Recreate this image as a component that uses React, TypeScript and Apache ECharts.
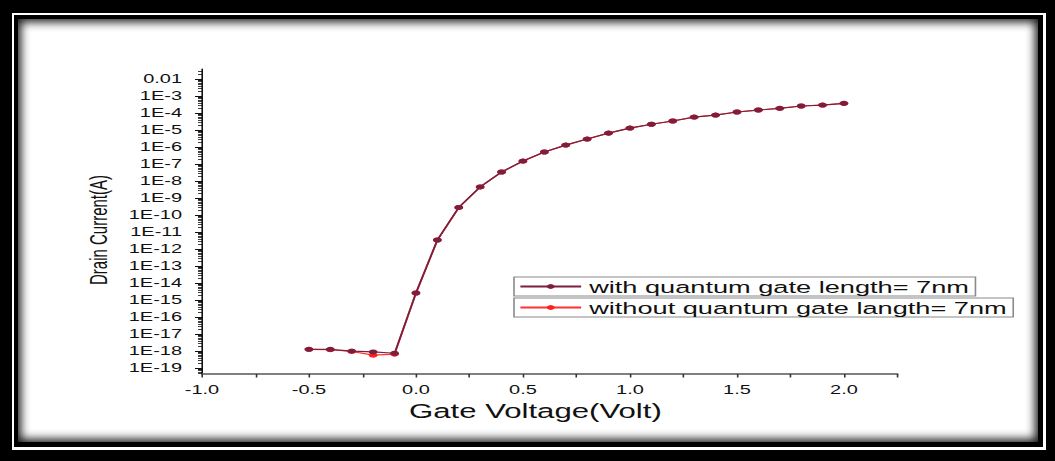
import React, { useEffect, useRef } from "react";
import * as echarts from "echarts";

// ---- data ----
const gateVoltage = [
  -0.5, -0.4, -0.3, -0.2, -0.1, 0.0, 0.1, 0.2, 0.3, 0.4, 0.5, 0.6, 0.7,
  0.8, 0.9, 1.0, 1.1, 1.2, 1.3, 1.4, 1.5, 1.6, 1.7, 1.8, 1.9, 2.0,
];
const withQuantum = [
  1.26e-18, 1.26e-18, 1.0e-18, 8.9e-19, 7.4e-19, 2.6e-15, 3.4e-12, 2.8e-10,
  4.5e-9, 3.4e-8, 1.5e-7, 5.1e-7, 1.3e-6, 2.95e-6, 6.6e-6, 1.3e-5, 2.2e-5,
  3.4e-5, 5.8e-5, 7.6e-5, 1.15e-4, 1.5e-4, 1.9e-4, 2.6e-4, 2.95e-4, 3.7e-4,
];
const withoutQuantum = [
  1.26e-18, 1.2e-18, 9.5e-19, 5.75e-19, 6.6e-19, 2.6e-15, 3.4e-12, 2.8e-10,
  4.5e-9, 3.4e-8, 1.5e-7, 5.1e-7, 1.3e-6, 2.95e-6, 6.6e-6, 1.3e-5, 2.2e-5,
  3.4e-5, 5.8e-5, 7.6e-5, 1.15e-4, 1.5e-4, 1.9e-4, 2.6e-4, 2.95e-4, 3.7e-4,
];
const seriesNames = [
  "with quantum gate length= 7nm",
  "without quantum gate langth= 7nm",
];
const yDecades = [-19, -18, -17, -16, -15, -14, -13, -12, -11, -10, -9, -8, -7, -6, -5, -4, -3, -2];
const xLabelValues = [-1.0, -0.5, 0.0, 0.5, 1.0, 1.5, 2.0];
const xTickValues = [-1.0, -0.75, -0.5, -0.25, 0.0, 0.25, 0.5, 0.75, 1.0, 1.25, 1.5, 1.75, 2.0, 2.25];
const xTitle = "Gate Voltage(Volt)";
const yTitle = "Drain Current(A)";

const FONT = "'Liberation Sans', Arial, Helvetica, sans-serif";
const CW = 660; // unscaled chart width
const S = 1055 / CW; // horizontal stretch
const Y_MIN = -19.35;
const Y_MAX = -1.41;

export default function App() {
  const ref = useRef<HTMLDivElement>(null);

  useEffect(() => {
    if (!ref.current) return;
    const chart = echarts.init(ref.current, null, { renderer: "svg" });

    const yMinor: number[] = [];
    for (let n = -20; n <= -2; n++) {
      for (let k = 2; k <= 9; k++) {
        const v = n + Math.log10(k);
        if (v >= Y_MIN && v <= Y_MAX) yMinor.push(v);
      }
    }

    const toPairs = (arr: number[]) =>
      gateVoltage.map((x, i) => [x, Math.log10(arr[i])]);

    const legendBase = {
      left: 514 / S,
      orient: "horizontal",
      itemWidth: 38,
      itemHeight: 6,
      itemGap: 0,
      padding: [1, 4, 1, 3],
      borderColor: "#8a8a8a",
      borderWidth: 1,
      selectedMode: false,
      textStyle: { fontSize: 17, color: "#111", fontFamily: FONT },
    };

    chart.setOption({
      animation: false,
      backgroundColor: "transparent",
      textStyle: { fontFamily: FONT },
      grid: {
        left: 202 / S,
        right: CW - 897.5 / S,
        top: 69,
        bottom: 87,
        containLabel: false,
        outerBoundsMode: "none",
      },
      legend: [
        { ...legendBase, top: 277, data: [seriesNames[0]] },
        { ...legendBase, top: 298, data: [seriesNames[1]] },
      ],
      xAxis: {
        type: "value",
        min: -1.0,
        max: 2.25,
        interval: 0.5,
        name: xTitle,
        nameLocation: "middle",
        nameGap: 27,
        nameMoveOverlap: false,
        nameTextStyle: {
          fontSize: 19.5,
          color: "#111",
          fontFamily: FONT,
          padding: [0, 18, 0, 0],
        },
        axisLine: { show: true, onZero: false, lineStyle: { color: "#555", width: 1.5 } },
        axisTick: {
          show: true,
          inside: false,
          length: 3.5,
          customValues: xTickValues,
          lineStyle: { color: "#333", width: 1 },
        },
        axisLabel: {
          show: true,
          customValues: xLabelValues,
          margin: 9,
          fontSize: 12.5,
          color: "#111",
          fontFamily: FONT,
          formatter: (v: number) => v.toFixed(1),
        },
        splitLine: { show: false },
        minorTick: { show: false },
      },
      yAxis: [
        {
          type: "value",
          min: Y_MIN,
          max: Y_MAX,
          position: "left",
          name: yTitle,
          nameLocation: "middle",
          nameRotate: 90,
          nameGap: 57.5,
          nameMoveOverlap: false,
          nameTextStyle: {
            fontSize: 15,
            color: "#111",
            fontFamily: FONT,
            padding: [0, 17, 0, 0],
          },
          axisLine: { show: true, onZero: false, lineStyle: { color: "#111", width: 1 } },
          axisTick: {
            show: true,
            inside: false,
            length: 4.4,
            customValues: yDecades,
            lineStyle: { color: "#111", width: 1 },
          },
          axisLabel: {
            show: true,
            customValues: yDecades,
            margin: 12.5,
            fontSize: 12.5,
            color: "#111",
            fontFamily: FONT,
            formatter: (v: number) => (Math.round(v) === -2 ? "0.01" : "1E" + Math.round(v)),
          },
          splitLine: { show: false },
        },
        {
          type: "value",
          min: Y_MIN,
          max: Y_MAX,
          position: "left",
          offset: 0,
          axisLine: { show: false, onZero: false },
          axisTick: {
            show: true,
            inside: false,
            length: 2.5,
            customValues: yMinor,
            lineStyle: { color: "#111", width: 0.8 },
          },
          axisLabel: { show: false },
          splitLine: { show: false },
        },
      ],
      series: [
        {
          name: seriesNames[1],
          type: "line",
          yAxisIndex: 0,
          data: toPairs(withoutQuantum),
          symbol: "circle",
          symbolSize: [5.5, 5],
          itemStyle: { color: "#ff1f1f" },
          lineStyle: { color: "#ff3030", width: 1.1 },
          z: 2,
        },
        {
          name: seriesNames[0],
          type: "line",
          yAxisIndex: 0,
          data: toPairs(withQuantum),
          symbol: "circle",
          symbolSize: [5.5, 5],
          itemStyle: { color: "#7d1f3c" },
          lineStyle: { color: "#7d1f3c", width: 1.2 },
          z: 3,
        },
      ],
    });

    return () => chart.dispose();
  }, []);

  return (
    <div
      style={{
        position: "fixed",
        left: 0,
        top: 0,
        width: 1055,
        height: 461,
        background: "#000",
        overflow: "hidden",
      }}
    >
      <div
        style={{
          position: "absolute",
          left: 12,
          top: 13,
          width: 1034,
          height: 437,
          boxSizing: "border-box",
          borderStyle: "solid",
          borderColor: "#fff",
          borderWidth: "2px 3px 3px 2px",
          background: "#000",
        }}
      />
      <div
        style={{
          position: "absolute",
          left: 18,
          top: 19,
          width: 1020,
          height: 423,
          background: "#fff",
          boxShadow: "inset 0 0 10px 3px rgba(0,0,0,0.9)",
        }}
      />
      <div
        ref={ref}
        style={{
          position: "absolute",
          left: 0,
          top: 0,
          width: CW,
          height: 461,
          transform: `scaleX(${S})`,
          transformOrigin: "0 0",
        }}
      />
    </div>
  );
}
